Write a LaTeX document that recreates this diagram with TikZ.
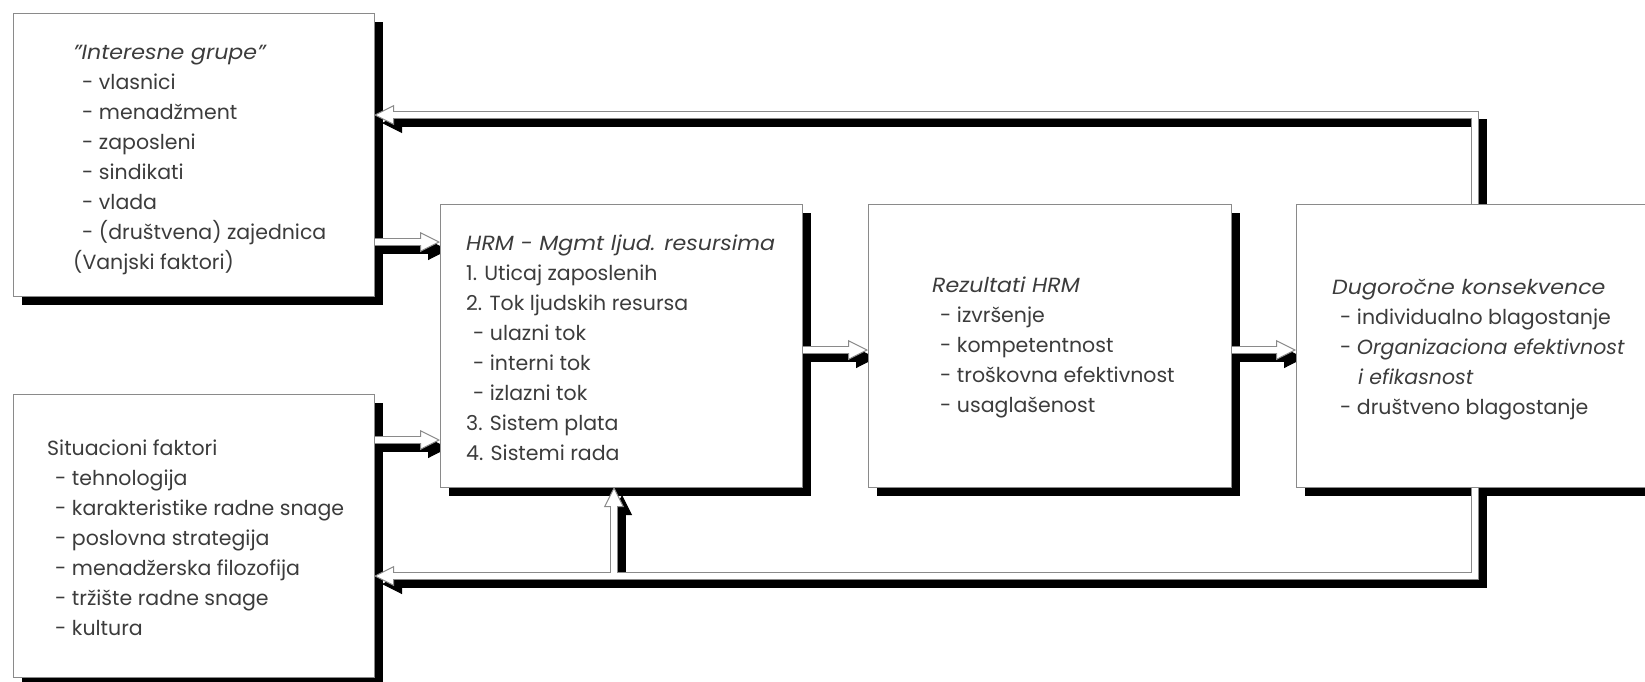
\documentclass[tikz,border=0pt]{standalone}
\usepackage{fontspec}
\setmainfont{Poppins}[ItalicFeatures={FakeStretch=1.08}]
\newfontfamily\plainfam{Poppins}
\usetikzlibrary{arrows.meta}
\definecolor{txtc}{HTML}{3C3C3C}
\definecolor{edgec}{HTML}{8A8A8A}
\pgfdeclarelayer{bg}
\pgfdeclarelayer{mid}
\pgfsetlayers{bg,mid,main}
\begin{document}
\begin{tikzpicture}[x=1pt,y=-1pt,
  box/.style={draw=edgec, line width=1pt, fill=white, anchor=north west, inner sep=0pt, outer sep=0pt, minimum height=283pt, minimum width=#1},
  txt/.style={anchor=north west, align=left, inner sep=0pt, text=txtc, font=\fontsize{20.5}{30}\selectfont},
  wout/.style={draw=edgec, line width=8pt, -{Triangle[length=20pt,width=20pt,line width=1pt,fill=white]}},
  win/.style={draw=white, line width=6pt, shorten >=17pt},
  bout/.style={draw=black, line width=8pt, -{Triangle[length=20pt,width=20pt,line width=1pt]}},
]
\useasboundingbox (0,0) rectangle (1645,681);
\node[box=361pt] (b1) at (13,13) {};
\node[box=361pt] (b2) at (13,394) {};
\node[box=362pt] (hrm) at (440,204) {};
\node[box=363pt] (rez) at (868,204) {};
\node[box=400pt] (dug) at (1296,204) {};

\node[txt] (t1) at (73,38) {\strut\textit{"Interesne grupe"}\\
\hspace*{9pt}- vlasnici\\
\hspace*{9pt}- menadžment\\
\hspace*{9pt}- zaposleni\\
\hspace*{9pt}- sindikati\\
\hspace*{9pt}- vlada\\
\hspace*{9pt}- (društvena) zajednica\\
(Vanjski faktori)};
\node[txt] (t2) at (47,434) {\strut Situacioni faktori\\
\hspace*{8pt}- tehnologija\\
\hspace*{8pt}- karakteristike radne snage\\
\hspace*{8pt}- poslovna strategija\\
\hspace*{8pt}- menadžerska filozofija\\
\hspace*{8pt}- tržište radne snage\\
\hspace*{8pt}- kultura};
\node[txt] (t3) at (466,229) {\strut\textit{HRM - Mgmt ljud. resursima}\\
1. Uticaj zaposlenih\\
2. Tok ljudskih resursa\\
\hspace*{7pt}- ulazni tok\\
\hspace*{7pt}- interni tok\\
\hspace*{7pt}- izlazni tok\\
3. Sistem plata\\
4. Sistemi rada};
\node[txt] (t4) at (932,271) {\strut\textit{Rezultati HRM}\\
\hspace*{8pt}- izvršenje\\
\hspace*{8pt}- kompetentnost\\
\hspace*{8pt}- troškovna efektivnost\\
\hspace*{8pt}- usaglašenost};
\node[txt] (t5) at (1332,273) {\strut\textit{Dugoročne konsekvence}\\
\hspace*{8pt}- individualno blagostanje\\
\hspace*{8pt}- {\plainfam\itshape Organizaciona efektivnost}\\
\hspace*{26pt}{\plainfam\itshape i efikasnost}\\
\hspace*{8pt}- društveno blagostanje};

\coordinate (jn) at (614,576);

\begin{pgfonlayer}{bg}
\begin{scope}[transform canvas={xshift=9pt,yshift=-9pt}]
\foreach \b in {b1,b2,hrm,rez,dug} \fill[black] (\b.north west) rectangle (\b.south east);
\end{scope}
\begin{scope}[transform canvas={xshift=8pt,yshift=-8pt}]
\draw[bout] (b1.east |- 0,242) -- (hrm.west |- 0,242);
\draw[bout] (b2.east |- 0,440) -- (hrm.west |- 0,440);
\draw[bout] (hrm.east |- 0,350) -- (rez.west |- 0,350);
\draw[bout] (rez.east |- 0,350) -- (dug.west |- 0,350);
\draw[bout] (dug.north -| 1475,0) |- (b1.east |- 0,115);
\draw[bout] (dug.south -| 1475,0) |- (b2.east |- 0,576);
\draw[bout] (jn) -- (hrm.south -| jn);
\end{scope}
\end{pgfonlayer}

\begin{pgfonlayer}{mid}
\draw[wout] (b1.east |- 0,242) -- (hrm.west |- 0,242);
\draw[win] (b1.east |- 0,242) -- (hrm.west |- 0,242);
\draw[wout] (b2.east |- 0,440) -- (hrm.west |- 0,440);
\draw[win] (b2.east |- 0,440) -- (hrm.west |- 0,440);
\draw[wout] (hrm.east |- 0,350) -- (rez.west |- 0,350);
\draw[win] (hrm.east |- 0,350) -- (rez.west |- 0,350);
\draw[wout] (rez.east |- 0,350) -- (dug.west |- 0,350);
\draw[win] (rez.east |- 0,350) -- (dug.west |- 0,350);
\draw[wout] (dug.north -| 1475,0) |- (b1.east |- 0,115);
\draw[win] (dug.north -| 1475,0) |- (b1.east |- 0,115);
\draw[wout] (dug.south -| 1475,0) |- (b2.east |- 0,576);
\draw[wout] (jn) -- (hrm.south -| jn);
\draw[win] (dug.south -| 1475,0) |- (b2.east |- 0,576);
\draw[win] (jn) -- (hrm.south -| jn);
\end{pgfonlayer}
\end{tikzpicture}
\end{document}
